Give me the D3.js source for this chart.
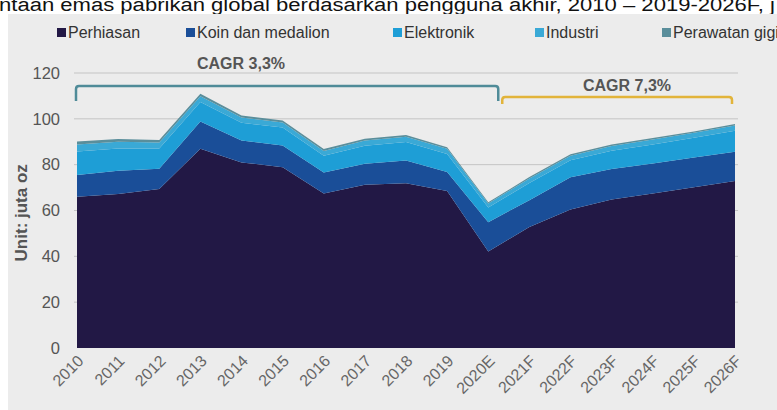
<!DOCTYPE html>
<html lang="id">

<head>
    <meta charset="UTF-8">
    <title>Permintaan emas pabrikan global</title>
    <style>
        body {
            padding: 0;
            margin: 0;
            background: #fff;
        }

        svg {
            display: block;
            font-family: "Liberation Sans", Arial, sans-serif;
        }
    </style>
</head>

<body>
    <script src="https://d3js.org/d3.v7.min.js"></script>
    <script>
        // data (juta oz)
        const years = ['2010', '2011', '2012', '2013', '2014', '2015', '2016', '2017', '2018', '2019',
            '2020E', '2021F', '2022F', '2023F', '2024F', '2025F', '2026F']
        const perhiasan = [66.0, 67.2, 69.4, 86.9, 81.0, 78.9, 67.4, 71.2, 71.9, 68.5, 42.1, 52.8, 60.4, 64.8, 67.4, 70.1, 72.9]
        const koin = [9.5, 10.2, 8.8, 11.9, 9.5, 9.5, 9.2, 9.2, 9.9, 8.3, 12.8, 11.7, 14.1, 13.3, 13.1, 13.0, 12.7]
        const elektronik = [10.3, 9.7, 8.9, 8.6, 7.8, 7.8, 7.3, 7.9, 8.1, 7.9, 6.4, 7.5, 7.4, 8.0, 8.3, 8.6, 9.2]
        const industri = [3.0, 2.9, 2.6, 2.5, 2.3, 2.2, 2.1, 2.2, 2.3, 2.2, 1.8, 2.0, 2.0, 2.1, 2.2, 2.2, 2.3]
        const gigi = [1.3, 1.2, 1.1, 1.0, 0.9, 0.9, 0.8, 0.8, 0.8, 0.7, 0.5, 0.6, 0.6, 0.6, 0.6, 0.6, 0.6]
        const seriesNames = ['Perhiasan', 'Koin dan medalion', 'Elektronik', 'Industri', 'Perawatan gigi']
        const colors = ['#221845', '#1a4e98', '#1e9ed6', '#3aa9d6', '#5a8e9b']
        const yTicks = [0, 20, 40, 60, 80, 100, 120]
        const cagr = [{
            label: 'CAGR 3,3%',
            from: '2010',
            to: '2020E',
            color: '#4f8b98'
        }, {
            label: 'CAGR 7,3%',
            from: '2020E',
            to: '2026F',
            color: '#e2b43a'
        }]

        const width = 777
        const height = 410
        const font = '"Liberation Sans", Arial, sans-serif'

        const rows = years.map((yr, i) => ({
            year: yr,
            Perhiasan: perhiasan[i],
            'Koin dan medalion': koin[i],
            Elektronik: elektronik[i],
            Industri: industri[i],
            'Perawatan gigi': gigi[i]
        }))

        const svg = d3.select('body')
            .append('svg')
            .attr('width', width)
            .attr('height', height)

        // judul (terpotong seperti aslinya)
        svg.append('text')
            .attr('x', -1)
            .attr('y', 11)
            .attr('font-size', 18)
            .attr('fill', '#111')
            .attr('textLength', 776)
            .attr('lengthAdjust', 'spacingAndGlyphs')
            .text('ntaan emas pabrikan global berdasarkan pengguna akhir, 2010 – 2019-2026F, j')

        // panel abu-abu
        svg.append('rect')
            .attr('x', 8)
            .attr('y', 14)
            .attr('width', width - 8)
            .attr('height', height - 14)
            .attr('fill', '#ececec')

        // skala
        const x = d3.scalePoint().domain(years).range([77, 735])
        const y = d3.scaleLinear().domain([0, 120]).range([348, 73])

        // garis grid
        svg.append('g')
            .selectAll('line')
            .data(yTicks.filter(d => d > 0))
            .join('line')
            .attr('x1', 74)
            .attr('x2', 738)
            .attr('y1', d => y(d))
            .attr('y2', d => y(d))
            .attr('stroke', '#c4c4c4')
            .attr('stroke-width', 1)

        // area bertumpuk
        const stack = d3.stack().keys(seriesNames)
        const layers = stack(rows)
        const area = d3.area()
            .x(d => x(d.data.year))
            .y0(d => y(d[0]))
            .y1(d => y(d[1]))

        svg.append('g')
            .selectAll('path')
            .data(layers)
            .join('path')
            .attr('fill', (d, i) => colors[i])
            .attr('d', area)

        // sumbu y
        const yAxis = svg.append('g')
            .attr('transform', 'translate(74,0)')
            .call(d3.axisLeft(y).tickValues(yTicks).tickSize(0).tickPadding(14))
        yAxis.select('.domain').remove()
        yAxis.selectAll('text')
            .attr('font-size', 16.5)
            .attr('fill', '#555')
            .attr('font-family', font)

        svg.append('text')
            .attr('transform', `translate(27,${y(59)}) rotate(-90)`)
            .attr('text-anchor', 'middle')
            .attr('font-size', 17)
            .attr('font-weight', 'bold')
            .attr('fill', '#555')
            .text('Unit: juta oz')

        // sumbu x dengan label miring
        const xAxis = svg.append('g')
            .attr('transform', `translate(0,${y(0)})`)
            .call(d3.axisBottom(x).tickSize(0).tickPadding(0))
        xAxis.select('.domain').remove()
        xAxis.selectAll('text')
            .attr('font-size', 16)
            .attr('fill', '#666')
            .attr('font-family', font)
            .attr('text-anchor', 'end')
            .attr('dy', 0)
            .attr('transform', 'translate(7,14) rotate(-45)')

        // legenda
        const legendX = [57, 186, 393, 535, 662]
        const legend = svg.append('g')
            .selectAll('g')
            .data(seriesNames)
            .join('g')
            .attr('transform', (d, i) => `translate(${legendX[i]},32)`)
        legend.append('rect')
            .attr('x', 0)
            .attr('y', -4)
            .attr('width', 9)
            .attr('height', 9)
            .attr('fill', (d, i) => colors[i])
        legend.append('text')
            .attr('x', 11)
            .attr('y', 6)
            .attr('font-size', 16)
            .attr('fill', '#333')
            .text(d => d)

        // kurung CAGR
        const bracket = (x0, x1, top, bottom, r) =>
            `M${x0},${bottom} L${x0},${top + r} Q${x0},${top} ${x0 + r},${top} ` +
            `L${x1 - r},${top} Q${x1},${top} ${x1},${top + r} L${x1},${bottom}`

        const bPos = [{
            x0: x(cagr[0].from) - 1,
            x1: x(cagr[0].to) + 10,
            top: 86,
            bottom: 101,
            ty: 69,
            tx: 241
        }, {
            x0: x(cagr[1].from) + 14,
            x1: x(cagr[1].to) - 3,
            top: 97,
            bottom: 104,
            ty: 91,
            tx: 627
        }]

        cagr.forEach((c, i) => {
            const p = bPos[i]
            svg.append('path')
                .attr('d', bracket(p.x0, p.x1, p.top, p.bottom, 3))
                .attr('fill', 'none')
                .attr('stroke', c.color)
                .attr('stroke-width', 2.5)
            svg.append('text')
                .attr('x', p.tx)
                .attr('y', p.ty)
                .attr('text-anchor', 'middle')
                .attr('font-size', 16)
                .attr('font-weight', 'bold')
                .attr('fill', '#555')
                .text(c.label)
        })
    </script>
</body>

</html>
